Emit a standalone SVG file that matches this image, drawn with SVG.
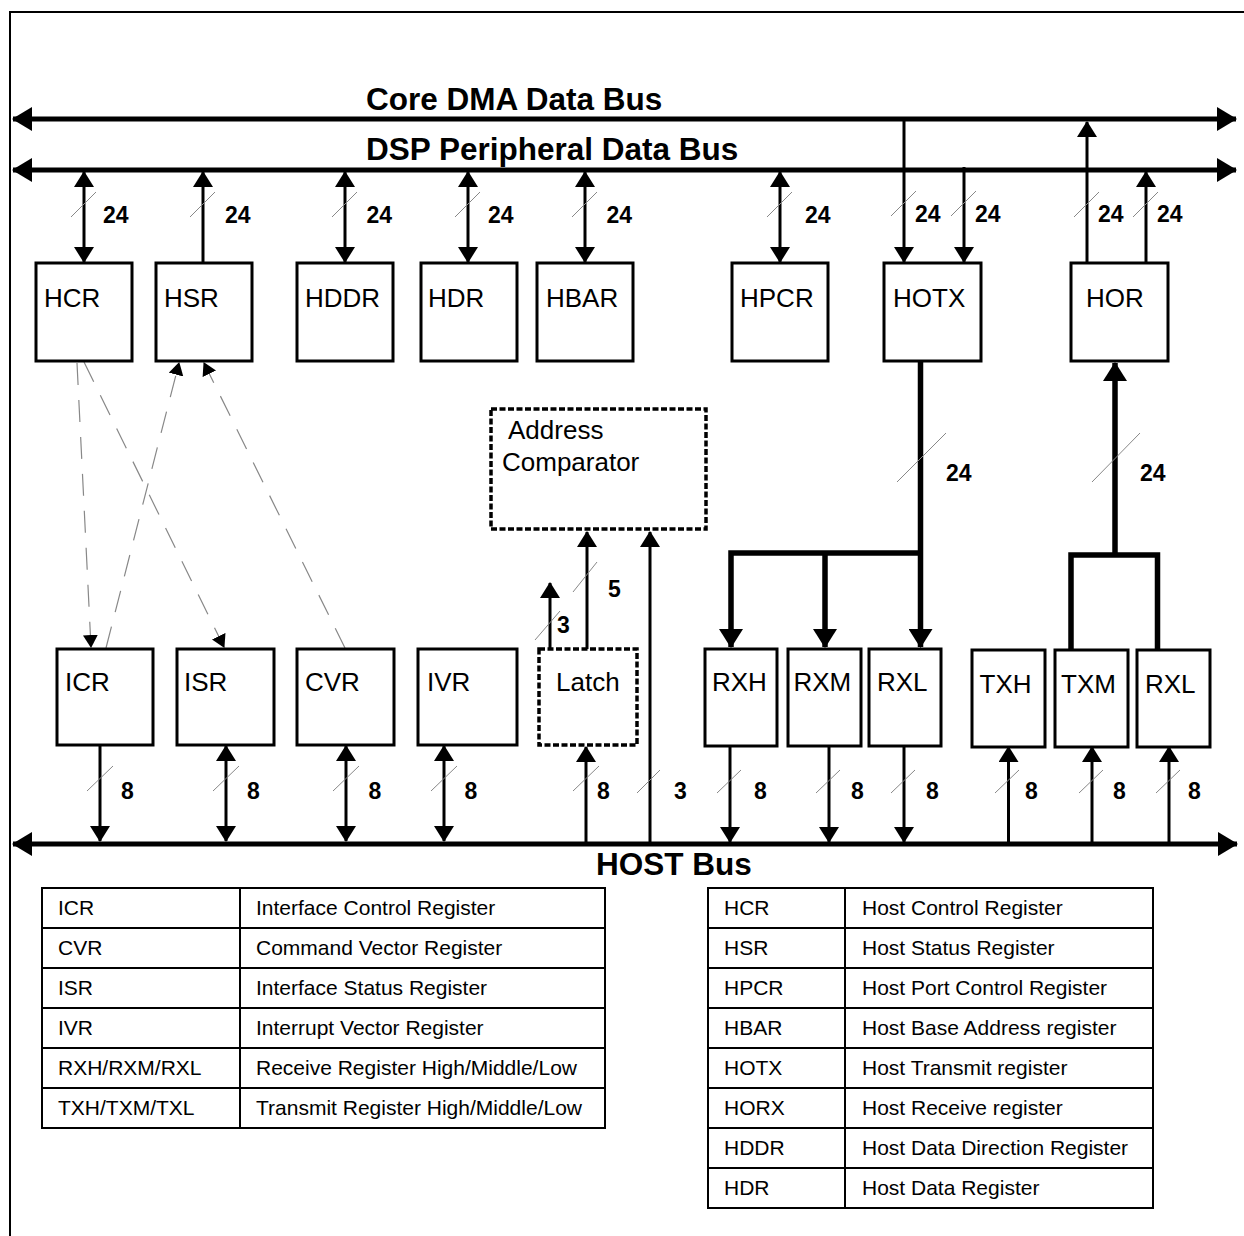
<svg xmlns="http://www.w3.org/2000/svg" width="1244" height="1236" viewBox="0 0 1244 1236">
<style>
text{font-family:"Liberation Sans",Arial,Helvetica,sans-serif;fill:#000}
.bus{stroke:#000;stroke-width:5;fill:none;marker-start:url(#abus);marker-end:url(#abus)}
.bl{font-size:31.5px;font-weight:bold}
.box{fill:#fff;stroke:#000;stroke-width:3}
.dbox{fill:#fff;stroke:#000;stroke-width:3.5;stroke-dasharray:6 2.5}
.lbl{font-size:26px}
.num{font-size:23px;font-weight:bold}
.c{stroke:#000;stroke-width:3;fill:none}
.tk{stroke:#000;stroke-width:5.5;fill:none;stroke-linejoin:miter}
.e{marker-end:url(#ah)}
.b{marker-start:url(#ah);marker-end:url(#ah)}
.te{marker-end:url(#aht)}
.sl{stroke:#888;stroke-width:1}
.dsh{stroke:#888;stroke-width:1.2;fill:none;stroke-dasharray:22 15;marker-end:url(#ahd)}
.tb{fill:none;stroke:#000;stroke-width:2}
.tt{font-size:21px}
</style>
<defs>
<marker id="ah" markerUnits="userSpaceOnUse" viewBox="0 0 16 20" markerWidth="16" markerHeight="20" refX="15" refY="10" orient="auto-start-reverse"><path d="M0,0 L16,10 L0,20 Z" fill="#000"/></marker>
<marker id="aht" markerUnits="userSpaceOnUse" viewBox="0 0 19 24" markerWidth="19" markerHeight="24" refX="18" refY="12" orient="auto-start-reverse"><path d="M0,0 L19,12 L0,24 Z" fill="#000"/></marker>
<marker id="abus" markerUnits="userSpaceOnUse" viewBox="0 0 20 24" markerWidth="20" markerHeight="24" refX="19" refY="12" orient="auto-start-reverse"><path d="M0,0 L20,12 L0,24 Z" fill="#000"/></marker>
<marker id="ahd" markerUnits="userSpaceOnUse" viewBox="0 0 13 15" markerWidth="13" markerHeight="15" refX="12" refY="7.5" orient="auto"><path d="M0,0 L13,7.5 L0,15 Z" fill="#000"/></marker>
</defs>

<g id="frame">
<path d="M10 1236 V12 H1244" fill="none" stroke="#000" stroke-width="2"/>
</g>

<g id="buses">
<path class="bus" d="M13 119 H1236"/>
<path class="bus" d="M13 170 H1236"/>
<path class="bus" d="M13 844 H1237"/>
<text class="bl" x="366" y="110">Core DMA Data Bus</text>
<text class="bl" x="366" y="160">DSP Peripheral Data Bus</text>
<text class="bl" x="596" y="875">HOST Bus</text>
</g>

<g id="connectors">
<!-- top row -->
<path class="c b" d="M84 172 V262"/>
<path class="c e" d="M203 262 V172"/>
<path class="c b" d="M345 172 V262"/>
<path class="c b" d="M468 172 V262"/>
<path class="c b" d="M585 172 V262"/>
<path class="c b" d="M780 172 V262"/>
<path class="c e" d="M904 117 V262"/>
<path class="c e" d="M964 167 V262"/>
<path class="c e" d="M1087 262 V122"/>
<path class="c e" d="M1146 262 V172"/>
<!-- thick -->
<path class="tk te" d="M920.5 361 V647"/>
<path class="tk te" d="M920.5 553 H731 V647"/>
<path class="tk te" d="M825 553 V647"/>
<path class="tk te" d="M1115 556 V363"/>
<path class="tk" d="M1071 650 V555 H1157.5 V650"/>
<!-- latch / comparator -->
<path class="c e" d="M587 649 V532"/>
<path class="c e" d="M550 649 V583"/>
<path class="c e" d="M650 844 V532"/>
<path class="c e" d="M586 844 V747"/>
<!-- bottom row -->
<path class="c e" d="M100 742 V841"/>
<path class="c b" d="M226 746 V841"/>
<path class="c b" d="M346 746 V841"/>
<path class="c b" d="M444 746 V841"/>
<path class="c e" d="M730 746 V842"/>
<path class="c e" d="M829 746 V842"/>
<path class="c e" d="M904 746 V842"/>
<path class="c e" d="M1008.5 842 V747"/>
<path class="c e" d="M1092 842 V747"/>
<path class="c e" d="M1169 842 V747"/>
<!-- dashed -->
<path class="dsh" d="M77 363 L91 647"/>
<path class="dsh" d="M84 362 L224 647"/>
<path class="dsh" d="M106 648 L179 363"/>
<path class="dsh" d="M345 648 L204 363"/>
<!-- slashes -->
<g class="sl">
<line x1="71" y1="217" x2="96" y2="192"/>
<line x1="190" y1="217" x2="215" y2="192"/>
<line x1="332" y1="217" x2="357" y2="192"/>
<line x1="455" y1="217" x2="480" y2="192"/>
<line x1="572" y1="217" x2="597" y2="192"/>
<line x1="767" y1="217" x2="792" y2="192"/>
<line x1="891" y1="216" x2="916" y2="191"/>
<line x1="951" y1="216" x2="976" y2="191"/>
<line x1="1074" y1="217" x2="1099" y2="192"/>
<line x1="1133" y1="217" x2="1158" y2="192"/>
<line x1="897" y1="482" x2="946" y2="433"/>
<line x1="1092" y1="482" x2="1140" y2="433"/>
<line x1="573" y1="592" x2="597" y2="562"/>
<line x1="535" y1="640" x2="560" y2="611"/>
<line x1="87" y1="791" x2="113" y2="766"/>
<line x1="213" y1="791" x2="239" y2="766"/>
<line x1="333" y1="791" x2="359" y2="766"/>
<line x1="431" y1="791" x2="457" y2="766"/>
<line x1="573" y1="791" x2="599" y2="766"/>
<line x1="637" y1="793" x2="660" y2="770"/>
<line x1="717" y1="793" x2="741" y2="770"/>
<line x1="816" y1="793" x2="840" y2="770"/>
<line x1="891" y1="793" x2="915" y2="770"/>
<line x1="995" y1="793" x2="1019" y2="770"/>
<line x1="1079" y1="793" x2="1103" y2="770"/>
<line x1="1156" y1="793" x2="1180" y2="770"/>
</g>
<g class="num">
<text x="103" y="222.5">24</text>
<text x="225" y="222.5">24</text>
<text x="366.5" y="222.5">24</text>
<text x="488" y="222.5">24</text>
<text x="606.5" y="222.5">24</text>
<text x="805" y="222.5">24</text>
<text x="915" y="221.5">24</text>
<text x="975" y="221.5">24</text>
<text x="1098" y="221.5">24</text>
<text x="1157" y="221.5">24</text>
<text x="946" y="481">24</text>
<text x="1140" y="481">24</text>
<text x="608" y="597">5</text>
<text x="557" y="633">3</text>
<text x="121" y="799">8</text>
<text x="247" y="799">8</text>
<text x="368.5" y="799">8</text>
<text x="464.5" y="799">8</text>
<text x="597" y="799">8</text>
<text x="674" y="799">3</text>
<text x="754" y="799">8</text>
<text x="851" y="799">8</text>
<text x="926" y="799">8</text>
<text x="1025" y="799">8</text>
<text x="1113" y="799">8</text>
<text x="1188" y="799">8</text>
</g>
</g>

<g id="HCR"><rect class="box" x="36" y="263" width="96" height="98"/><text class="lbl" x="44" y="307">HCR</text></g>
<g id="HSR"><rect class="box" x="156" y="263" width="96" height="98"/><text class="lbl" x="164" y="307">HSR</text></g>
<g id="HDDR"><rect class="box" x="297" y="263" width="96" height="98"/><text class="lbl" x="305" y="307">HDDR</text></g>
<g id="HDR"><rect class="box" x="421" y="263" width="96" height="98"/><text class="lbl" x="428" y="307">HDR</text></g>
<g id="HBAR"><rect class="box" x="537" y="263" width="96" height="98"/><text class="lbl" x="546" y="307">HBAR</text></g>
<g id="HPCR"><rect class="box" x="732" y="263" width="96" height="98"/><text class="lbl" x="740" y="307">HPCR</text></g>
<g id="HOTX"><rect class="box" x="884" y="263" width="97" height="98"/><text class="lbl" x="893" y="307">HOTX</text></g>
<g id="HOR"><rect class="box" x="1071" y="263" width="97" height="98"/><text class="lbl" x="1086" y="307">HOR</text></g>

<g id="AddressComparator"><rect class="dbox" x="491" y="409" width="215" height="120"/><text class="lbl" x="508" y="439">Address</text><text class="lbl" x="502" y="471">Comparator</text></g>

<g id="ICR"><rect class="box" x="57" y="649" width="96" height="96"/><text class="lbl" x="65" y="691">ICR</text></g>
<g id="ISR"><rect class="box" x="177" y="649" width="97" height="96"/><text class="lbl" x="184" y="691">ISR</text></g>
<g id="CVR"><rect class="box" x="297" y="649" width="97" height="96"/><text class="lbl" x="305" y="691">CVR</text></g>
<g id="IVR"><rect class="box" x="418" y="649" width="99" height="96"/><text class="lbl" x="427" y="691">IVR</text></g>
<g id="Latch"><rect class="dbox" x="539" y="649" width="98" height="96"/><text class="lbl" x="556" y="691">Latch</text></g>
<g id="RXH"><rect class="box" x="705" y="649" width="72" height="97"/><text class="lbl" x="712" y="691">RXH</text></g>
<g id="RXM"><rect class="box" x="788" y="649" width="73" height="97"/><text class="lbl" x="793.5" y="691">RXM</text></g>
<g id="RXL"><rect class="box" x="869" y="649" width="72" height="97"/><text class="lbl" x="877" y="691">RXL</text></g>
<g id="TXH"><rect class="box" x="972" y="650" width="73" height="97"/><text class="lbl" x="979.5" y="693">TXH</text></g>
<g id="TXM"><rect class="box" x="1055" y="650" width="73" height="97"/><text class="lbl" x="1061" y="693">TXM</text></g>
<g id="RXL2"><rect class="box" x="1137" y="650" width="73" height="97"/><text class="lbl" x="1145" y="693">RXL</text></g>

<g id="legendLeft">
<rect class="tb" x="42" y="888" width="563" height="240"/>
<path class="tb" d="M240 888 V1128 M42 928 H605 M42 968 H605 M42 1008 H605 M42 1048 H605 M42 1088 H605"/>
<g class="tt">
<text x="58" y="915">ICR</text><text x="256" y="915">Interface Control Register</text>
<text x="58" y="955">CVR</text><text x="256" y="955">Command Vector Register</text>
<text x="58" y="995">ISR</text><text x="256" y="995">Interface Status Register</text>
<text x="58" y="1035">IVR</text><text x="256" y="1035">Interrupt Vector Register</text>
<text x="58" y="1075">RXH/RXM/RXL</text><text x="256" y="1075">Receive Register High/Middle/Low</text>
<text x="58" y="1115">TXH/TXM/TXL</text><text x="256" y="1115">Transmit Register High/Middle/Low</text>
</g>
</g>

<g id="legendRight">
<rect class="tb" x="708" y="888" width="445" height="320"/>
<path class="tb" d="M845 888 V1208 M708 928 H1153 M708 968 H1153 M708 1008 H1153 M708 1048 H1153 M708 1088 H1153 M708 1128 H1153 M708 1168 H1153"/>
<g class="tt">
<text x="724" y="915">HCR</text><text x="862" y="915">Host Control Register</text>
<text x="724" y="955">HSR</text><text x="862" y="955">Host Status Register</text>
<text x="724" y="995">HPCR</text><text x="862" y="995">Host Port Control Register</text>
<text x="724" y="1035">HBAR</text><text x="862" y="1035">Host Base Address register</text>
<text x="724" y="1075">HOTX</text><text x="862" y="1075">Host Transmit register</text>
<text x="724" y="1115">HORX</text><text x="862" y="1115">Host Receive register</text>
<text x="724" y="1155">HDDR</text><text x="862" y="1155">Host Data Direction Register</text>
<text x="724" y="1195">HDR</text><text x="862" y="1195">Host Data Register</text>
</g>
</g>
</svg>
